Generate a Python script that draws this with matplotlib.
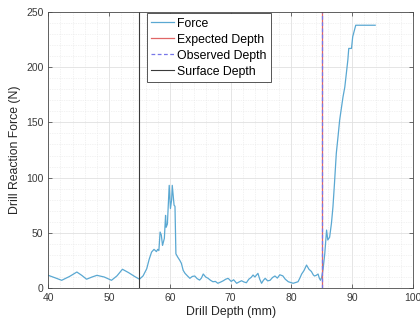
import matplotlib
matplotlib.use("Agg")
import matplotlib.pyplot as plt
from matplotlib.ticker import MultipleLocator

# Force trace (mm, N)
depth = [40.0, 41.0, 42.2, 43.5, 44.7, 45.5, 46.3, 47.2, 48.0, 49.2, 50.4, 51.3,
         52.2, 53.2, 54.2, 55.0, 55.6, 56.2, 56.6, 57.0, 57.4, 57.8, 58.0, 58.2,
         58.4, 58.6, 58.8, 59.1, 59.3, 59.4, 59.6, 59.9, 60.1, 60.3, 60.4, 60.7,
         60.85, 61.0, 61.3, 61.65, 61.9, 62.2, 62.5, 62.9, 63.3, 63.7, 64.1, 64.5,
         64.9, 65.2, 65.5, 65.9, 66.3, 66.7, 67.1, 67.5, 67.9, 68.4, 68.8, 69.2,
         69.6, 70.1, 70.5, 71.0, 71.4, 71.8, 72.2, 72.6, 73.0, 73.4, 73.7, 74.0,
         74.5, 74.8, 75.1, 75.4, 75.7, 76.1, 76.5, 76.9, 77.3, 77.7, 78.1, 78.6,
         79.0, 79.5, 79.9, 80.3, 80.7, 81.1, 81.4, 81.7, 82.1, 82.5, 82.9, 83.3,
         83.6, 83.8, 84.1, 84.4, 84.6, 84.8, 85.0, 85.2, 85.5, 85.8, 86.0, 86.3,
         86.6, 86.85, 87.1, 87.4, 87.7, 87.95, 88.5, 88.8, 89.3, 89.45, 89.9, 90.1,
         90.6, 93.8]
force = [11.5, 9.5, 7, 10.5, 14.5, 11.5, 8, 10, 11.5, 10, 7, 11,
         17, 14, 10.5, 8, 11, 17.5, 26, 32.6, 35, 33, 35, 34,
         50.7, 48, 38.6, 45, 65.8, 55, 58, 93, 72, 80, 93, 75,
         74, 31, 28, 25, 22.4, 16, 13.3, 11, 8.8, 10.5, 10.9, 8.5,
         7.2, 9, 12.7, 10, 8.8, 7, 5.7, 6, 4.3, 5.5, 6.6, 8,
         8.8, 6, 7.5, 4.3, 5.5, 6.6, 5.5, 4.8, 8, 9.7, 11.8, 10,
         13.3, 8, 4.3, 7, 8.8, 6.5, 7, 9.5, 10.9, 9, 12, 11,
         8, 5.7, 5, 4.3, 5, 5.7, 9, 12.7, 16, 20.8, 17, 15,
         12, 10.9, 11.5, 12.7, 9, 7, 10, 16, 31, 52.5, 43.5, 46,
         58.6, 73.6, 94.8, 122, 138, 152, 173, 182, 206.5, 217, 217, 227.6,
         238, 238]

expected_depth = 85
observed_depth = 85
surface_depth = 55

plt.rcParams['font.family'] = ['Liberation Sans', 'DejaVu Sans']

fig = plt.figure(figsize=(4.2, 3.24), dpi=100)
ax = fig.add_axes([0.115, 0.111, 0.868, 0.852])

ax.plot(depth, force, color='#5aa8d2', linewidth=0.9, label='Force')
ax.axvline(expected_depth, color='#e06666', linewidth=0.9, label='Expected Depth')
ax.axvline(observed_depth, color='#7777e8', linewidth=0.9, linestyle=(0, (3, 2)),
           label='Observed Depth')
ax.axvline(surface_depth, color='#3a3a3a', linewidth=0.8, label='Surface Depth')

ax.set_xlim(40, 100)
ax.set_ylim(0, 250)
ax.xaxis.set_major_locator(MultipleLocator(10))
ax.xaxis.set_minor_locator(MultipleLocator(2))
ax.yaxis.set_major_locator(MultipleLocator(50))
ax.yaxis.set_minor_locator(MultipleLocator(10))

ax.grid(True, which='major', color='#e0e0e0', linewidth=0.6)
ax.grid(True, which='minor', color='#e6e6e6', linewidth=0.5, linestyle=(0, (1, 1.5)))
ax.set_axisbelow(True)

ax.tick_params(which='both', direction='in', top=True, right=True,
               colors='#3a3a3a', labelsize=7.5, width=0.5)
ax.tick_params(which='major', length=3)
ax.tick_params(which='minor', length=0)
for s in ax.spines.values():
    s.set_color('#4a4a4a')
    s.set_linewidth(0.6)

ax.set_xlabel('Drill Depth (mm)', fontsize=8.8, color='#262626', labelpad=2)
ax.set_ylabel('Drill Reaction Force (N)', fontsize=8.8, color='#262626', labelpad=4)

leg = ax.legend(loc='upper left', bbox_to_anchor=(0.270, 0.995), borderaxespad=0,
                fontsize=8.8, fancybox=False, framealpha=1, edgecolor='#3a3a3a',
                handlelength=1.85, handletextpad=0.3, labelspacing=0.33,
                borderpad=0.35)
leg.get_frame().set_linewidth(0.6)

fig.savefig('out.png', dpi=100)
